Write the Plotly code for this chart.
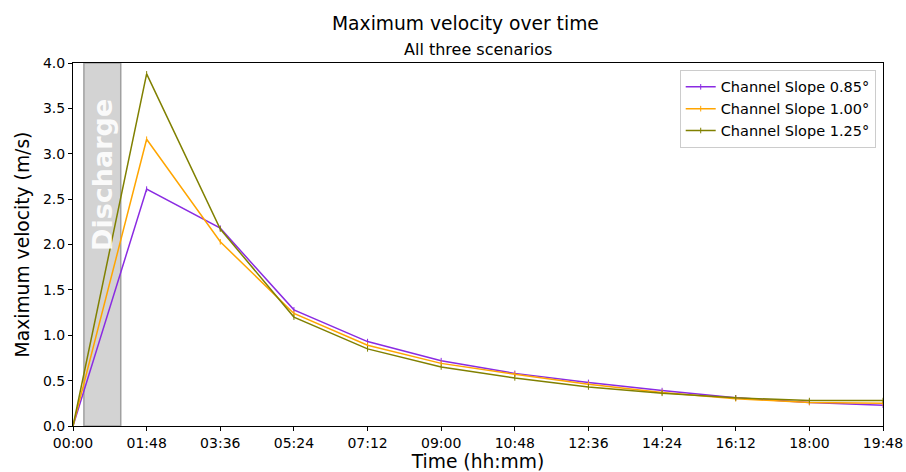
import plotly.graph_objects as go

minutes = [0, 108, 216, 324, 432, 540, 648, 756, 864, 972, 1080, 1188]
tick_vals = [0, 108, 216, 324, 432, 540, 648, 756, 864, 972, 1080, 1188]
tick_text = ["00:00", "01:48", "03:36", "05:24", "07:12", "09:00", "10:48",
             "12:36", "14:24", "16:12", "18:00", "19:48"]
y_tick_vals = [0, 0.5, 1, 1.5, 2, 2.5, 3, 3.5, 4]
y_tick_text = ["0.0", "0.5", "1.0", "1.5", "2.0", "2.5", "3.0", "3.5", "4.0"]

slope_085 = [0.0, 2.61, 2.18, 1.28, 0.93, 0.72, 0.58, 0.48, 0.39, 0.31, 0.26, 0.23]
slope_100 = [0.0, 3.16, 2.03, 1.24, 0.89, 0.69, 0.57, 0.46, 0.37, 0.30, 0.26, 0.25]
slope_125 = [0.0, 3.88, 2.17, 1.20, 0.85, 0.65, 0.53, 0.43, 0.36, 0.31, 0.28, 0.28]

names = ["Channel Slope 0.85°", "Channel Slope 1.00°", "Channel Slope 1.25°"]
colors = ["#8A2BE2", "#FFA500", "#808000"]
discharge_start, discharge_end = 16, 70

W, H = 906, 472
L, R, T, B = 73, 23, 63, 46
PW, PH = W - L - R, H - T - B

fig = go.Figure()
for ys, name, c in zip([slope_085, slope_100, slope_125], names, colors):
    fig.add_trace(go.Scatter(
        x=minutes, y=ys, name=name, mode="lines+markers",
        line=dict(color=c, width=1.5),
        marker=dict(symbol="line-ns", size=4, line=dict(color=c, width=1)),
    ))

fig.add_vrect(x0=discharge_start, x1=discharge_end, fillcolor="#d3d3d3", opacity=1,
              line=dict(color="#a0a0a0", width=1.5), layer="below")
fig.add_annotation(x=(discharge_start + discharge_end) / 2, y=2.77, text="<b>Discharge</b>",
                   textangle=-90, showarrow=False,
                   font=dict(size=27, color="rgba(255,255,255,0.92)", family="DejaVu Sans"))


def paper(px, py):
    return (px - L) / PW, (H - B - py) / PH


tx, ty = paper(465, 24)
fig.add_annotation(text="Maximum velocity over time", x=tx, y=ty, xref="paper", yref="paper",
                   yanchor="middle", xanchor="center", showarrow=False, font=dict(size=18.7))
sx, sy = paper(478, 49)
fig.add_annotation(text="All three scenarios", x=sx, y=sy, xref="paper", yref="paper",
                   yanchor="middle", xanchor="center", showarrow=False, font=dict(size=16))

fig.update_layout(
    width=W, height=H,
    margin=dict(l=L, r=R, t=T, b=B),
    paper_bgcolor="white", plot_bgcolor="white",
    font=dict(family="DejaVu Sans", color="black", size=14),
    showlegend=True,
    legend=dict(x=0.991, y=0.981, xanchor="right", yanchor="top",
                bgcolor="rgba(255,255,255,0.8)", bordercolor="#cccccc", borderwidth=1,
                font=dict(size=14.5), tracegroupgap=0),
)

fig.update_xaxes(range=[0, 1188], tickvals=tick_vals, ticktext=tick_text, automargin=False,
                 showgrid=False, zeroline=False, showline=True, linecolor="black",
                 linewidth=1, mirror=True, ticks="outside", ticklen=4, tickcolor="black",
                 tickfont=dict(size=14),
                 title=dict(text="Time (hh:mm)", font=dict(size=18.7), standoff=5))
fig.update_yaxes(range=[0, 4.0], tickvals=y_tick_vals, ticktext=y_tick_text, automargin=False,
                 showgrid=False, zeroline=False, showline=True, linecolor="black",
                 linewidth=1, mirror=True, ticks="outside", ticklen=4, tickcolor="black",
                 tickfont=dict(size=14),
                 title=dict(text="Maximum velocity (m/s)", font=dict(size=18.7), standoff=8))

fig.write_html("out.html")
